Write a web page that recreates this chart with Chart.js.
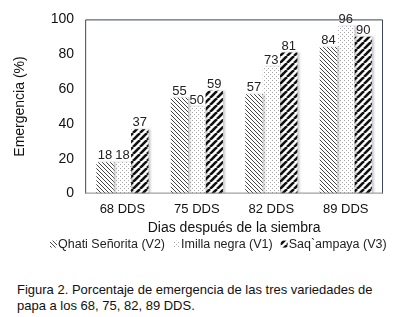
<!DOCTYPE html>
<html>
<head>
<meta charset="utf-8">
<script src="https://cdn.jsdelivr.net/npm/chart.js@4"></script>
<style>
  body { margin: 0; background: #fff; font-family: "Liberation Sans", Arial, sans-serif; }
  #wrap { position: relative; width: 404px; height: 262px; }
  .caption { margin: 20px 0 0 17px; font-size: 13px; line-height: 16px; color: #111; width: 385px; }
</style>
</head>
<body>
<div id="wrap"><canvas id="chart" width="404" height="262"></canvas></div>
<div class="caption">Figura 2. Porcentaje de emergencia de las tres variedades de papa a los 68, 75, 82, 89 DDS.</div>
<script>
// data
const categories = ['68 DDS', '75 DDS', '82 DDS', '89 DDS'];
const seriesNames = ['Qhati Señorita (V2)', 'Imilla negra (V1)', 'Saq`ampaya (V3)'];
const qhati = [18, 55, 57, 84];
const imilla = [18, 50, 73, 96];
const saqampaya = [37, 59, 81, 90];
const yTicks = [0, 20, 40, 60, 80, 100];

const FONT = '"Liberation Sans", Arial, sans-serif';

// ---- fill patterns ----
function hatch(size, width, color, dir) {
  const c = document.createElement('canvas');
  c.width = size; c.height = size;
  const g = c.getContext('2d');
  g.fillStyle = '#fff';
  g.fillRect(0, 0, size, size);
  g.strokeStyle = color;
  g.lineWidth = width;
  for (let k = -1; k <= 1; k++) {
    g.beginPath();
    if (dir === 'down') {
      g.moveTo(k * size, 0); g.lineTo(k * size + size, size);
    } else {
      g.moveTo(k * size, size); g.lineTo(k * size + size, 0);
    }
    g.stroke();
  }
  return g.createPattern(c, 'repeat');
}

function dots() {
  const c = document.createElement('canvas');
  c.width = 4; c.height = 4;
  const g = c.getContext('2d');
  g.fillStyle = '#fff';
  g.fillRect(0, 0, 4, 4);
  g.fillStyle = '#a8a8a8';
  g.fillRect(0, 0, 1, 1);
  g.fillRect(2, 2, 1, 1);
  return g.createPattern(c, 'repeat');
}

const fills = [hatch(4, 1, '#444', 'down'), dots(), hatch(7, 2.6, '#111', 'up')];

// frame around the plot area
const framePlugin = {
  id: 'frame',
  afterDraw(chart) {
    const a = chart.chartArea, ctx = chart.ctx;
    ctx.save();
    ctx.strokeStyle = '#3c4656';
    ctx.lineWidth = 1;
    ctx.beginPath();
    ctx.moveTo(a.left + 0.5, a.bottom);
    ctx.lineTo(a.left + 0.5, a.top + 0.5);
    ctx.lineTo(a.right - 0.5, a.top + 0.5);
    ctx.lineTo(a.right - 0.5, a.bottom);
    ctx.stroke();
    ctx.strokeStyle = '#8a8a8a';
    ctx.beginPath();
    ctx.moveTo(a.left, a.bottom - 0.5);
    ctx.lineTo(a.right, a.bottom - 0.5);
    ctx.stroke();
    ctx.restore();
  }
};

// soft shadow behind bars
const shadowPlugin = {
  id: 'barShadow',
  beforeDatasetsDraw(chart) {
    const ctx = chart.ctx;
    ctx.save();
    ctx.shadowColor = 'rgba(0,0,0,0.22)';
    ctx.shadowOffsetX = 2;
    ctx.shadowOffsetY = 0;
    ctx.shadowBlur = 2;
  },
  afterDatasetsDraw(chart) {
    chart.ctx.restore();
  }
};

// value labels over bars
const labelPlugin = {
  id: 'valueLabels',
  afterDatasetsDraw(chart) {
    const ctx = chart.ctx;
    ctx.save();
    ctx.font = '13px ' + FONT;
    ctx.fillStyle = '#222';
    ctx.textAlign = 'center';
    ctx.textBaseline = 'bottom';
    chart.data.datasets.forEach((ds, i) => {
      chart.getDatasetMeta(i).data.forEach((bar, j) => {
        ctx.fillText(ds.data[j], bar.x, bar.y);
      });
    });
    ctx.restore();
  }
};

// legend row under the axis title
const legendPlugin = {
  id: 'bottomLegend',
  afterDraw(chart) {
    const ctx = chart.ctx;
    const y = chart.chartArea.bottom + 51;
    ctx.save();
    ctx.font = '12.5px ' + FONT;
    ctx.textBaseline = 'middle';
    ctx.textAlign = 'left';
    let x = 50;
    chart.data.datasets.forEach(ds => {
      ctx.fillStyle = ds.backgroundColor;
      ctx.fillRect(x, y - 4, 7, 7);
      ctx.fillStyle = '#222';
      ctx.fillText(ds.label, x + 8, y);
      x += 8 + ctx.measureText(ds.label).width + 8;
    });
    ctx.restore();
  }
};

new Chart(document.getElementById('chart'), {
  type: 'bar',
  data: {
    labels: categories,
    datasets: [qhati, imilla, saqampaya].map((vals, i) => ({
      label: seriesNames[i],
      data: vals,
      backgroundColor: fills[i],
      borderWidth: 0,
      categoryPercentage: 0.7,
      barPercentage: 1.0
    }))
  },
  options: {
    responsive: false,
    animation: false,
    layout: { padding: { left: 12, right: 21, top: 8, bottom: 25 } },
    plugins: {
      tooltip: { enabled: false },
      legend: { display: false }
    },
    scales: {
      x: {
        grid: { display: false, drawTicks: false },
        border: { display: false },
        ticks: { color: '#111', font: { family: FONT, size: 13 }, padding: 8 },
        title: {
          display: true,
          text: 'Dias después de la siembra',
          color: '#111',
          padding: { top: -5, bottom: 0 },
          font: { family: FONT, size: 14 }
        }
      },
      y: {
        min: 0,
        max: 100,
        afterBuildTicks(axis) { axis.ticks = yTicks.map(v => ({ value: v })); },
        grid: { display: false, drawTicks: false },
        border: { display: false },
        ticks: { color: '#111', font: { family: FONT, size: 14 }, padding: 11 },
        title: {
          display: true,
          text: 'Emergencia (%)',
          color: '#111',
          padding: { top: 0, bottom: 11 },
          font: { family: FONT, size: 14 }
        }
      }
    }
  },
  plugins: [shadowPlugin, labelPlugin, framePlugin, legendPlugin]
});
</script>
</body>
</html>
